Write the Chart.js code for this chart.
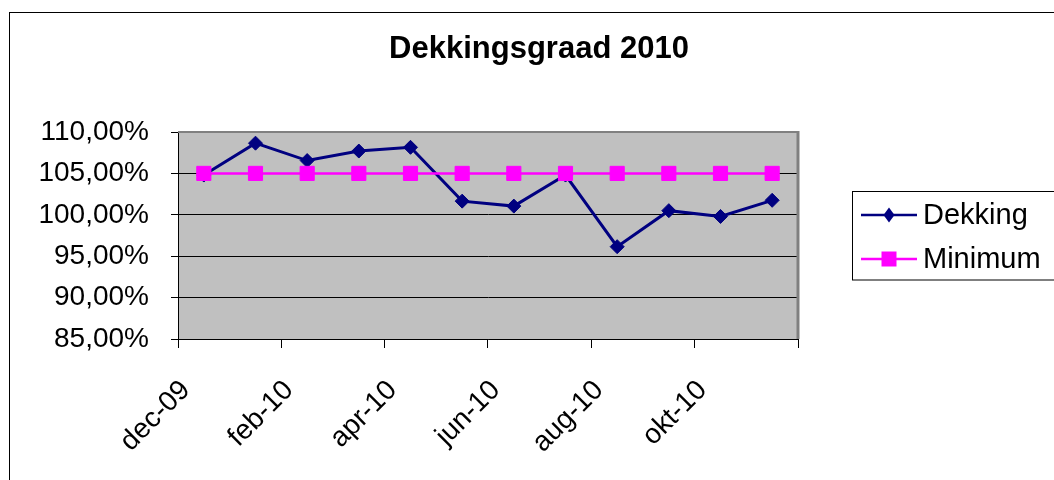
<!DOCTYPE html>
<html><head><meta charset="utf-8">
<script src="https://cdn.jsdelivr.net/npm/chart.js@4.4.1/dist/chart.umd.min.js"></script>
<style>html,body{margin:0;padding:0;background:#fff;overflow:hidden}canvas{display:block}</style>
</head><body>
<canvas id="c" width="1054" height="480"></canvas>
<script>
const months = ['dec-09','jan-10','feb-10','mrt-10','apr-10','mei-10','jun-10','jul-10','aug-10','sep-10','okt-10','nov-10'];
const dekking = [104.8,108.65,106.55,107.7,108.15,101.65,101.05,104.8,96.15,100.5,99.8,101.75];
const minimum = [105,105,105,105,105,105,105,105,105,105,105,105];
const yTicks = [85,90,95,100,105,110];
const seriesNames = ['Dekking','Minimum'];
const titleText = 'Dekkingsgraad 2010';

const FONT = "'Liberation Sans', Arial, sans-serif";
const NAVY = '#000080', MAGENTA = '#FF00FF';

const framePlugin = {
  id: 'frame',
  beforeDraw(chart) {
    const {ctx, chartArea: a} = chart;
    ctx.save();
    ctx.fillStyle = '#fff';
    ctx.fillRect(0, 0, chart.width, chart.height);
    ctx.strokeStyle = '#000';
    ctx.lineWidth = 1;
    ctx.strokeRect(9.5, 12.5, 3000, 3000);
    ctx.fillStyle = '#C0C0C0';
    ctx.fillRect(a.left, a.top, a.right - a.left, a.bottom - a.top);
    ctx.restore();
  },
  beforeDatasetsDraw(chart) {
    const {ctx, chartArea: a} = chart;
    ctx.save();
    ctx.strokeStyle = '#808080';
    ctx.lineWidth = 2;
    ctx.beginPath();
    ctx.moveTo(a.left, a.top);
    ctx.lineTo(a.right, a.top);
    ctx.stroke();
    ctx.lineWidth = 3;
    ctx.beginPath();
    ctx.moveTo(a.right, a.top - 1);
    ctx.lineTo(a.right, a.bottom);
    ctx.stroke();
    ctx.restore();
  }
};

const legendPlugin = {
  id: 'excelLegend',
  afterDraw(chart) {
    const {ctx} = chart;
    const ds = chart.data.datasets;
    ctx.save();
    ctx.strokeStyle = '#000';
    ctx.lineWidth = 1;
    ctx.strokeRect(852.5, 191.5, 300, 88.5);
    const rows = [215, 259];
    seriesNames.forEach((name, i) => {
      const d = ds.find(x => x.label === name);
      const y = rows[i];
      ctx.strokeStyle = d.borderColor;
      ctx.lineWidth = 2.5;
      ctx.beginPath();
      ctx.moveTo(861, y);
      ctx.lineTo(917, y);
      ctx.stroke();
      ctx.fillStyle = d.backgroundColor;
      ctx.beginPath();
      if (d.pointStyle === 'rectRot') {
        ctx.moveTo(889, y - 7.5);
        ctx.lineTo(894.5, y);
        ctx.lineTo(889, y + 7.5);
        ctx.lineTo(883.5, y);
        ctx.closePath();
      } else {
        ctx.rect(881.5, y - 7.5, 15, 15);
      }
      ctx.fill();
      ctx.fillStyle = '#000';
      ctx.font = '29px ' + FONT;
      ctx.textBaseline = 'middle';
      ctx.textAlign = 'left';
      ctx.fillText(name, 923, y + 1);
    });
    ctx.restore();
  }
};

new Chart(document.getElementById('c'), {
  type: 'line',
  data: {
    labels: months,
    datasets: [
      {
        label: seriesNames[0],
        data: dekking,
        borderColor: NAVY,
        backgroundColor: NAVY,
        borderWidth: 3,
        pointStyle: 'rectRot',
        pointRadius: 7,
        pointBorderWidth: 1,
        pointHoverRadius: 7,
        tension: 0,
        order: 2
      },
      {
        label: seriesNames[1],
        data: minimum,
        borderColor: MAGENTA,
        backgroundColor: MAGENTA,
        borderWidth: 2.5,
        pointStyle: 'rect',
        pointRadius: 10,
        pointBorderWidth: 1,
        pointHoverRadius: 10,
        tension: 0,
        order: 1
      }
    ]
  },
  options: {
    responsive: false,
    animation: false,
    devicePixelRatio: 1,
    layout: { padding: { left: 24, right: 0, top: 0, bottom: 0 } },
    plugins: {
      legend: { display: false },
      tooltip: { enabled: false },
      title: {
        display: true,
        text: titleText,
        color: '#000',
        font: { family: FONT, size: 31, weight: 'bold' },
        padding: { top: 31, bottom: 63.8 }
      }
    },
    scales: {
      x: {
        type: 'category',
        offset: true,
        afterFit(s) { s.height = 141; },
        grid: {
          display: true,
          offset: true,
          drawOnChartArea: false,
          drawTicks: true,
          tickLength: 9,
          lineWidth: 1,
          color: (c) => (c.index === undefined || c.index % 2 === 0) ? '#000' : 'rgba(0,0,0,0)'
        },
        border: { display: true, color: '#000', width: 1 },
        ticks: {
          autoSkip: false,
          minRotation: 45,
          maxRotation: 45,
          padding: 26,
          labelOffset: -18,
          color: '#000',
          font: { family: FONT, size: 28 },
          callback: function(v, i) { return i % 2 === 0 ? this.getLabelForValue(v) : ''; }
        }
      },
      y: {
        type: 'linear',
        position: 'left',
        min: yTicks[0],
        max: yTicks[yTicks.length - 1],
        afterFit(s) { s.width = 154; },
        afterBuildTicks(s) { s.ticks = yTicks.map(v => ({ value: v })); },
        grid: { color: '#000', lineWidth: 1, tickLength: 7, drawTicks: true },
        border: { display: true, color: '#000', width: 1 },
        ticks: {
          padding: 22,
          color: '#000',
          font: { family: FONT, size: 28 },
          callback: (v) => v.toFixed(2).replace('.', ',') + '%'
        }
      },
      yRight: {
        type: 'linear',
        position: 'right',
        display: true,
        afterFit(s) { s.width = 256; },
        grid: { display: false, drawTicks: false },
        border: { display: false },
        ticks: { display: false }
      }
    }
  },
  plugins: [framePlugin, legendPlugin]
});
</script>
</body></html>
